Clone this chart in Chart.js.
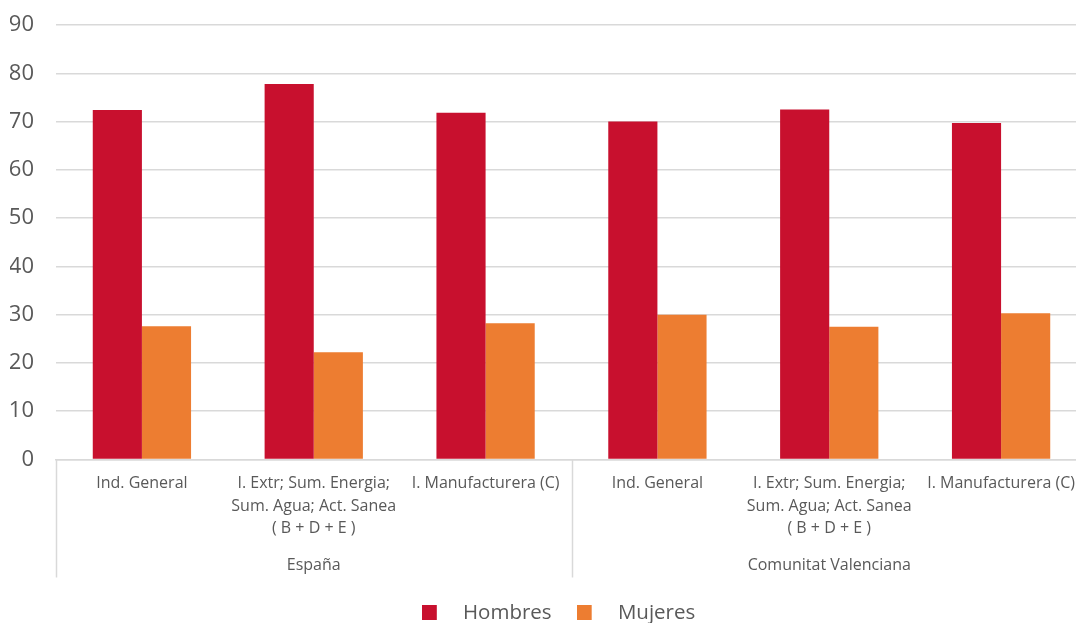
<!DOCTYPE html>
<html>
<head>
<meta charset="utf-8">
<script src="https://cdn.jsdelivr.net/npm/chart.js@4"></script>
<style>
  html, body { margin: 0; padding: 0; background: #fff; overflow: hidden; }
  #wrap { width: 1076px; height: 623px; overflow: hidden; }
  #box { width: 1118px; height: 633px; }
</style>
</head>
<body>
<div id="wrap"><div id="box"><canvas id="chart"></canvas></div></div>
<script>
// categories (two levels)
const categories = [
  'Ind. General',
  ['I. Extr; Sum. Energia;', 'Sum. Agua; Act. Sanea', '( B + D + E )'],
  'I. Manufacturera (C)',
  'Ind. General',
  ['I. Extr; Sum. Energia;', 'Sum. Agua; Act. Sanea', '( B + D + E )'],
  'I. Manufacturera (C)'
];
const regions = ['España', 'Comunitat Valenciana'];

// series values (%)
const hombres = [72.4, 77.8, 71.8, 70.0, 72.5, 69.7];
const mujeres = [27.6, 22.2, 28.2, 30.0, 27.5, 30.3];

const yTicks = [0, 10, 20, 30, 40, 50, 60, 70, 80, 90];

const textColor = '#595959';
const gridColor = '#d9d9d9';

// legend marker: square on the left, empty space after it (Excel-like gap)
function legendMarker(color) {
  const c = document.createElement('canvas');
  c.width = 31;
  c.height = 15;
  const g = c.getContext('2d');
  g.fillStyle = color;
  g.fillRect(0, 0, 15, 15);
  return c;
}

// vertical separators under the x axis between region groups
const groupLines = {
  id: 'groupLines',
  afterDraw(chart) {
    const x = chart.scales.x;
    const x2 = chart.scales.x2;
    const ctx = chart.ctx;
    const per = categories.length / regions.length;
    ctx.save();
    ctx.strokeStyle = gridColor;
    ctx.lineWidth = 1.5;
    for (let i = 0; i <= regions.length; i++) {
      const px = Math.round(x.getPixelForValue(i * per - 0.5)) + 0.5;
      ctx.beginPath();
      ctx.moveTo(px, chart.chartArea.bottom);
      ctx.lineTo(px, x2.bottom);
      ctx.stroke();
    }
    ctx.restore();
  }
};

// nudge legend a bit to the right
const legendShift = {
  id: 'legendShift',
  afterLayout(chart) {
    chart.legend.left += 10;
    chart.legend.right += 10;
  }
};

const ctx = document.getElementById('chart').getContext('2d');

const chart = new Chart(ctx, {
  type: 'bar',
  data: {
    labels: categories,
    datasets: [
      { label: 'Hombres', data: hombres, backgroundColor: '#C8102E' },
      { label: 'Mujeres', data: mujeres, backgroundColor: '#ED7D31' }
    ]
  },
  options: {
    responsive: true,
    maintainAspectRatio: false,
    animation: false,
    layout: { padding: { top: 0, left: 10, right: 31, bottom: 0 } },
    datasets: {
      bar: { barPercentage: 1, categoryPercentage: 0.572 }
    },
    plugins: {
      tooltip: { enabled: false },
      legend: {
        position: 'bottom',
        labels: {
          color: textColor,
          font: { family: 'Open Sans', size: 20.5, lineHeight: 1.0 },
          usePointStyle: true,
          pointStyleWidth: 31,
          boxHeight: 15,
          padding: 25,
          generateLabels(chart) {
            const items = Chart.defaults.plugins.legend.labels.generateLabels(chart);
            items.forEach(it => { it.pointStyle = legendMarker(it.fillStyle); });
            return items;
          }
        }
      }
    },
    scales: {
      x: {
        afterFit(scale) { scale.height = 90; },
        grid: { display: false, drawTicks: false },
        border: { display: true, color: gridColor, width: 1.5 },
        ticks: {
          color: textColor,
          font: { family: 'Open Sans', size: 16, lineHeight: 1.4 },
          maxRotation: 0,
          autoSkip: false,
          padding: 13
        }
      },
      x2: {
        type: 'category',
        position: 'bottom',
        labels: regions,
        offset: true,
        afterFit(scale) { scale.height = 28; },
        grid: { display: false, drawTicks: false },
        border: { display: false },
        ticks: {
          color: textColor,
          font: { family: 'Open Sans', size: 16, lineHeight: 1.4 },
          maxRotation: 0,
          padding: 5
        }
      },
      y: {
        min: 0,
        max: 90,
        afterBuildTicks(scale) {
          scale.ticks = yTicks.map(v => ({ value: v }));
        },
        afterFit(scale) {
          scale.width = 46;
          scale.paddingTop = 25;
        },
        grid: { color: gridColor, lineWidth: 1.5, drawTicks: false },
        border: { display: false },
        ticks: {
          color: textColor,
          font: { family: 'Open Sans', size: 22 },
          padding: 22
        }
      }
    }
  },
  plugins: [groupLines, legendShift]
});
</script>
</body>
</html>
